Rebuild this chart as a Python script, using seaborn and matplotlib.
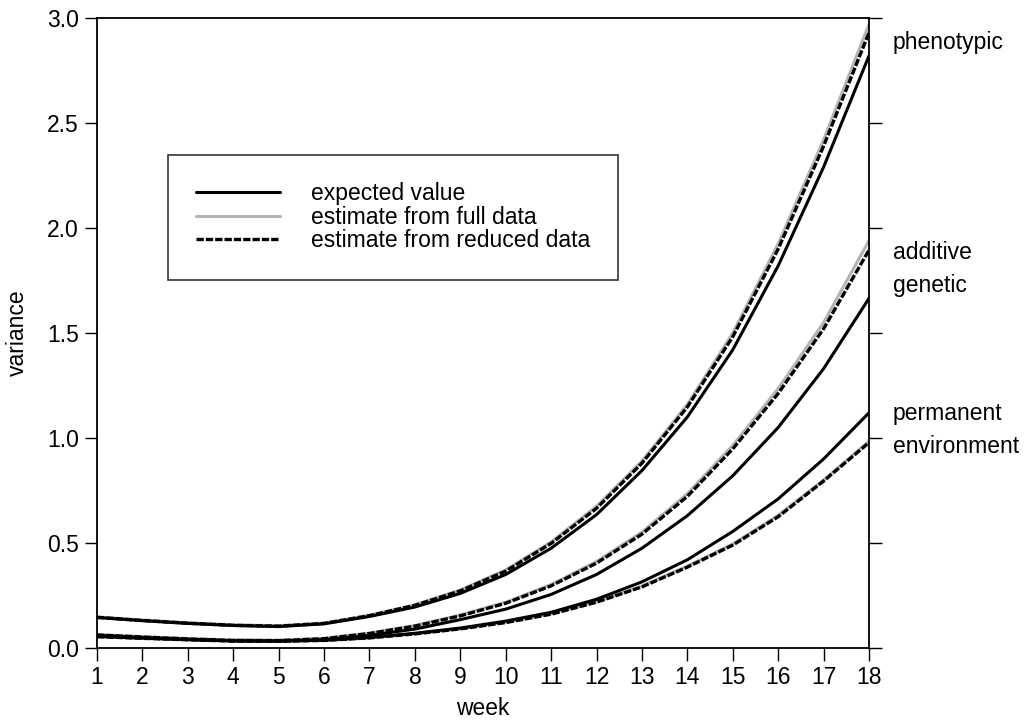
import numpy as np
import pandas as pd
import matplotlib
matplotlib.use("Agg")
import matplotlib.pyplot as plt
import seaborn as sns

# Variance components by week: expected values and estimates
weeks = list(range(1, 19))

pheno_expected = [0.145, 0.130, 0.117, 0.107, 0.102, 0.115, 0.150, 0.195, 0.260, 0.350,
                  0.475, 0.635, 0.845, 1.100, 1.420, 1.820, 2.290, 2.820]
pheno_full = [0.148, 0.133, 0.120, 0.110, 0.106, 0.119, 0.156, 0.206, 0.276, 0.372,
              0.505, 0.675, 0.890, 1.160, 1.500, 1.925, 2.420, 2.970]
pheno_reduced = [0.146, 0.131, 0.118, 0.108, 0.104, 0.117, 0.154, 0.203, 0.272, 0.366,
                 0.498, 0.665, 0.880, 1.148, 1.482, 1.900, 2.390, 2.930]

additive_expected = [0.060, 0.050, 0.041, 0.034, 0.033, 0.040, 0.060, 0.090, 0.135, 0.185,
                     0.255, 0.350, 0.475, 0.630, 0.820, 1.050, 1.330, 1.665]
additive_full = [0.064, 0.054, 0.045, 0.038, 0.037, 0.046, 0.071, 0.107, 0.157, 0.218,
                 0.302, 0.412, 0.552, 0.735, 0.965, 1.235, 1.550, 1.940]
additive_reduced = [0.062, 0.052, 0.043, 0.036, 0.035, 0.044, 0.069, 0.104, 0.153, 0.213,
                    0.296, 0.404, 0.542, 0.722, 0.948, 1.212, 1.520, 1.895]

perm_expected = [0.055, 0.047, 0.040, 0.034, 0.033, 0.037, 0.050, 0.070, 0.095, 0.128,
                 0.170, 0.232, 0.315, 0.420, 0.555, 0.710, 0.900, 1.120]
perm_full = [0.055, 0.047, 0.040, 0.034, 0.033, 0.037, 0.049, 0.068, 0.092, 0.123,
             0.163, 0.221, 0.295, 0.390, 0.495, 0.632, 0.800, 0.985]
perm_reduced = [0.054, 0.046, 0.039, 0.033, 0.032, 0.036, 0.048, 0.067, 0.091, 0.121,
                0.161, 0.218, 0.291, 0.385, 0.490, 0.625, 0.795, 0.978]

y_ticks = [0.0, 0.5, 1.0, 1.5, 2.0, 2.5, 3.0]
component_labels = [("phenotypic", 2.886), ("additive\ngenetic", 1.805),
                    ("permanent\nenvironment", 1.04)]

FS = 16.5

sns.set_theme(style="ticks")
plt.rcParams["font.family"] = ["Liberation Sans", "DejaVu Sans"]
plt.rcParams["text.color"] = "black"
plt.rcParams["axes.labelcolor"] = "black"

fig = plt.figure(figsize=(10.28, 7.24), dpi=100)
ax = fig.add_axes([0.0944, 0.105, 0.7509, 0.870])

groups = [
    (pheno_expected, pheno_full, pheno_reduced),
    (additive_expected, additive_full, additive_reduced),
    (perm_expected, perm_full, perm_reduced),
]

for i, (exp_v, full_v, red_v) in enumerate(groups):
    df = pd.DataFrame({"week": weeks, "expected": exp_v, "full": full_v, "reduced": red_v})
    sns.lineplot(data=df, x="week", y="full", ax=ax, color="#b4b4b4", linewidth=2.2,
                 label="estimate from full data" if i == 0 else None, zorder=2)
    sns.lineplot(data=df, x="week", y="reduced", ax=ax, color="black", linewidth=2.4,
                 dashes=(2.2, 0.6), label="estimate from reduced data" if i == 0 else None,
                 zorder=3)
    sns.lineplot(data=df, x="week", y="expected", ax=ax, color="black", linewidth=2.2,
                 label="expected value" if i == 0 else None, zorder=4)

ax.set_xlim(1, 18)
ax.set_ylim(0, 3.0)
ax.set_xticks(weeks)
ax.set_yticks(y_ticks)
ax.set_yticklabels([f"{v:.1f}" for v in y_ticks])
ax.tick_params(axis="both", direction="out", length=9, width=1.0, labelsize=FS,
               colors="black", pad=4)
ax.tick_params(axis="y", right=True, labelright=False)
ax.tick_params(axis="x", top=False)
for side in ["left", "right", "top", "bottom"]:
    ax.spines[side].set_visible(True)
    ax.spines[side].set_color("black")
    ax.spines[side].set_linewidth(1.3)

ax.set_xlabel("week", fontsize=FS, labelpad=6, color="black")
ax.set_ylabel("variance", fontsize=FS, labelpad=13, color="black")

for text, yv in component_labels:
    ax.text(1.031, yv, text, transform=ax.get_yaxis_transform(), fontsize=FS,
            ha="left", va="center", linespacing=1.55, color="black")

handles, labels = ax.get_legend_handles_labels()
order = [labels.index(l) for l in ["expected value", "estimate from full data",
                                   "estimate from reduced data"]]
leg = ax.legend([handles[k] for k in order], [labels[k] for k in order],
                loc="upper left", bbox_to_anchor=(0.092, 0.783), fontsize=FS,
                frameon=True, fancybox=False, edgecolor="black", handlelength=3.7,
                handletextpad=1.35, borderpad=1.2, labelspacing=0.02, borderaxespad=0,
                labelcolor="black")
leg.get_frame().set_linewidth(1.2)

fig.savefig("out.png", dpi=100)
